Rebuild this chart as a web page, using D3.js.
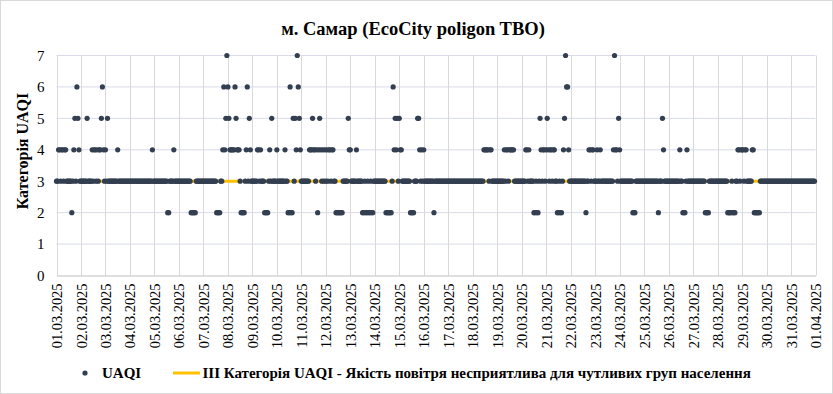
<!DOCTYPE html>
<html>
<head>
<meta charset="utf-8">
<script src="https://cdn.jsdelivr.net/npm/d3@7"></script>
<style>
body { margin: 0; background: #fff; }
svg { display: block; }
</style>
</head>
<body>
<svg id="chart" width="833" height="394"></svg>
<script>
let title = 'м. Самар (EcoCity poligon TBO)';
let yTitle = 'Категорія UAQI';
let seriesName = 'UAQI';
let thresholdName = 'ІІІ Категорія UAQI - Якість повітря несприятлива для чутливих груп населення';
let threshold = 3;

let dayLabels = ['01.03.2025', '02.03.2025', '03.03.2025', '04.03.2025', '05.03.2025', '06.03.2025',
    '07.03.2025', '08.03.2025', '09.03.2025', '10.03.2025', '11.03.2025', '12.03.2025',
    '13.03.2025', '14.03.2025', '15.03.2025', '16.03.2025', '17.03.2025', '18.03.2025',
    '19.03.2025', '20.03.2025', '21.03.2025', '22.03.2025', '23.03.2025', '24.03.2025',
    '25.03.2025', '26.03.2025', '27.03.2025', '28.03.2025', '29.03.2025', '30.03.2025',
    '31.03.2025', '01.04.2025'];

let yTicks = [0, 1, 2, 3, 4, 5, 6, 7];

// hourly UAQI category, one string per day, hours 00..23
let uaqiByDay = [
    '334434434433333234536543', // 01.03
    '333333533334344343445643',
    '435333333333433333333333',
    '333333333333333333333343',
    '333333333333322333343333', // 05.03
    '333333333333222223333333',
    '333333333333322223346457',
    '654444465444322223463543',
    '333334434333222234353333',
    '433333334332262253547654', // 10.03
    '333333334445443424543434',
    '343443443322222223333354',
    '433333433333223223223223',
    '333333333332222223645453',
    '544333333332222333554343', // 15.03
    '433333333323333333333333',
    '333333333333333333333333',
    '333333333334444434433333',
    '333333343443444443333333',
    '333344343333223223543443', // 20.03
    '454344344332232234576643',
    '333333333333333233443443',
    '334334333333333333474435',
    '433333333333322233333333',
    '333333333333332333543333', // 25.03
    '333333333334332223433333',
    '333333333333222233333333',
    '333333333322223222334434',
    '443443333344222222333333',
    '333333333333333333333333', // 30.03
    '333333333333333333333333'
];

let FONT = 'Liberation Serif';

let parseDay = d3.timeParse('%d.%m.%Y');
let days = dayLabels.map(parseDay);

let data = [];
uaqiByDay.forEach(function(s, d) {
    s.split('').forEach(function(c, h) {
	data.push({ time: d3.timeHour.offset(days[d], h), value: +c });
    });
});

let svg = d3.select('#chart');

// chart frame
svg.append('rect')
    .attr('x', 0.5).attr('y', 0.5)
    .attr('width', 832).attr('height', 393)
    .attr('fill', '#fff')
    .attr('stroke', '#d9d9d9');

let x = d3.scaleTime()
    .domain([days[0], days[days.length - 1]])
    .range([56.5, 815.5]);

let y = d3.scaleLinear()
    .domain([0, 7])
    .range([275.5, 55.5]);

let chart = svg.append('g');

// grid
chart.selectAll('.hgrid')
    .data(yTicks.filter(d => d > 0))
    .enter().append('line')
    .attr('class', 'hgrid')
    .attr('x1', x.range()[0]).attr('x2', x.range()[1])
    .attr('y1', d => y(d)).attr('y2', d => y(d))
    .attr('stroke', '#d9dbe8');

chart.selectAll('.vgrid')
    .data(days)
    .enter().append('line')
    .attr('class', 'vgrid')
    .attr('x1', d => Math.round(x(d)) + 0.5).attr('x2', d => Math.round(x(d)) + 0.5)
    .attr('y1', y(7)).attr('y2', y(0))
    .attr('stroke', '#d9d9d9');

// x axis
let xAxis = chart.append('g')
    .attr('transform', 'translate(0,' + y(0) + ')')
    .call(d3.axisBottom(x).tickValues(days).tickFormat(d3.timeFormat('%d.%m.%Y')).tickSize(0));

xAxis.attr('font-family', FONT).attr('font-size', 14.4);
xAxis.select('.domain').attr('stroke', '#bfbfbf');
xAxis.selectAll('text')
    .attr('transform', 'rotate(-90)')
    .attr('text-anchor', 'end')
    .attr('x', -8)
    .attr('y', 0)
    .attr('dy', '0.35em')
    .attr('fill', '#000');

// y axis
let yAxis = chart.append('g')
    .attr('transform', 'translate(' + x.range()[0] + ',0)')
    .call(d3.axisLeft(y).tickValues(yTicks).tickFormat(d3.format('d')).tickSize(0).tickPadding(12));

yAxis.attr('font-family', FONT).attr('font-size', 15);
yAxis.select('.domain').remove();
yAxis.selectAll('text').attr('fill', '#000');

// threshold line
chart.append('line')
    .attr('x1', x.range()[0]).attr('x2', x.range()[1])
    .attr('y1', y(threshold)).attr('y2', y(threshold))
    .attr('stroke', '#ffc000')
    .attr('stroke-width', 3);

// points
chart.selectAll('circle.pt')
    .data(data)
    .enter().append('circle')
    .attr('class', 'pt')
    .attr('cx', d => x(d.time))
    .attr('cy', d => y(d.value))
    .attr('r', 2.6)
    .attr('fill', '#333f50');

// titles
svg.append('text')
    .attr('x', 413).attr('y', 35)
    .attr('text-anchor', 'middle')
    .attr('font-family', FONT)
    .attr('font-size', 18.5)
    .attr('font-weight', 'bold')
    .text(title);

svg.append('text')
    .attr('transform', 'translate(22,151) rotate(-90)')
    .attr('text-anchor', 'middle')
    .attr('dy', '0.35em')
    .attr('font-family', FONT)
    .attr('font-size', 16)
    .attr('font-weight', 'bold')
    .text(yTitle);

// legend
let legend = svg.append('g')
    .attr('transform', 'translate(0,373)')
    .attr('font-family', FONT)
    .attr('font-size', 15)
    .attr('font-weight', 'bold');

legend.append('circle')
    .attr('cx', 85).attr('cy', 0).attr('r', 2.6)
    .attr('fill', '#333f50');
legend.append('text')
    .attr('x', 102).attr('y', 0).attr('dy', '0.35em')
    .text(seriesName);

legend.append('line')
    .attr('x1', 173).attr('x2', 200)
    .attr('y1', 0).attr('y2', 0)
    .attr('stroke', '#ffc000').attr('stroke-width', 3);
legend.append('text')
    .attr('x', 202.5).attr('y', 0).attr('dy', '0.35em')
    .text(thresholdName);
</script>
</body>
</html>
